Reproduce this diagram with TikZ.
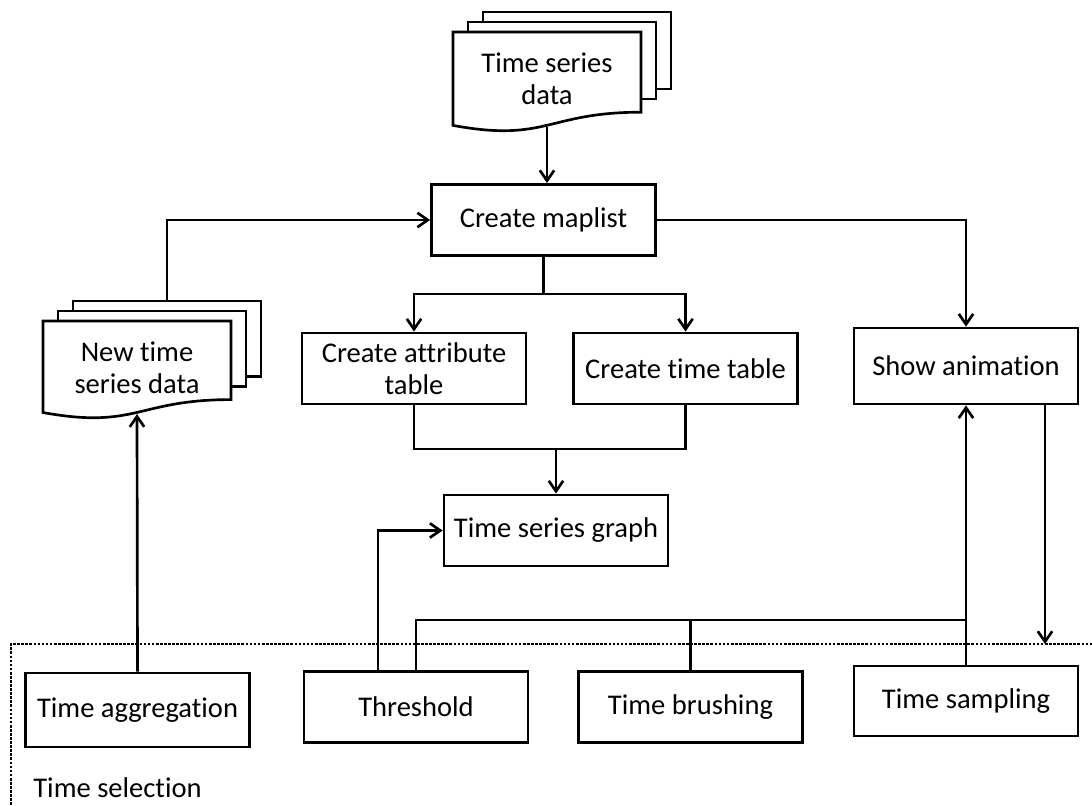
\documentclass[tikz,border=0pt]{standalone}
\usepackage{fontspec}
\setmainfont{Carlito}[Ligatures=NoCommon]
\usetikzlibrary{arrows.meta}

% stack of three pages, the front one with a wavy lower edge
% #1 name, #2 left, #3 top, #4 width, #5 height
\newcommand{\docstack}[5]{%
  \draw[page] ({#2+30},{#3-20}) rectangle ++(#4,{0.77*#5});
  \draw[page] ({#2+15},{#3-10}) rectangle ++(#4,{0.77*#5});
  \draw[page] (#2,#3) -- ++(#4,0) -- ++(0,{0.802*#5})
    .. controls ({#2+#4/2},{#3+0.802*#5}) and ({#2+#4/2},{#3+1.107*#5}) .. (#2,{#3+0.934*#5}) -- cycle;
  \coordinate (#1-top) at ({#2+30+#4/2},{#3-20});
  \coordinate (#1-bot) at ({#2+#4/2},{#3+0.95*#5});
}

\begin{document}
\begin{tikzpicture}[
    x=0.025cm, y=-0.025cm,
    line width=1.9pt,
    >={Straight Barb[length=2.6mm,width=3.6mm]},
    every node/.style = {font=\fontsize{20.3}{23}\selectfont, align=center},
    box/.style        = {draw, minimum width=5.6cm, minimum height=1.78cm},
    page/.style       = {draw, fill=white},
    selline/.style    = {line width=1.8pt, dash pattern=on 1.9pt off 1pt}
    ]
    \useasboundingbox (0,0) rectangle (1092,805);

    %--- data documents ---
    \docstack{tsdoc}{453}{32}{188}{100}
    \node (tsdata) at (547,79) {Time series\\data};
    \docstack{newdoc}{43}{321}{188}{98}
    \node (newdata) at (137,368) {New time\\series data};

    %--- process boxes ---
    \node[box] (maplist) at (543.5,220) {Create maplist};
    \node[box] (attr) at (414,368.5) {Create attribute\\table};
    \node[box] (timetab) at (685.5,368.5) {Create time table};
    \node[box, minimum height=1.9cm] (anim) at (966,366) {Show animation};
    \node[box] (graph) at (556,530.5) {Time series graph};

    %--- time selection ---
    \node[box, minimum height=1.85cm] (aggreg) at (137.5,710) {Time aggregation};
    \node[box] (thresh) at (416,707) {Threshold};
    \node[box] (brush) at (690.5,707) {Time brushing};
    \node[box, minimum height=1.75cm] (sampling) at (966,701) {Time sampling};
    \node[anchor=base west, inner sep=0pt] (sellabel) at (32,797) {Time selection};
    \draw[selline] (11,805) -- (11,644) -- (1092,644);

    %--- connectors ---
    \draw[->] (tsdoc-bot) -- (tsdoc-bot |- maplist.north);
    \draw[->] (newdoc-top) |- (maplist.west);
    \draw[->] (maplist.east) -| (anim.north);
    \coordinate (fork) at (543.5,294);
    \draw (maplist.south) -- (fork);
    \draw[->] (fork) -| (attr.north);
    \draw[->] (fork) -| (timetab.north);
    \coordinate (join) at (556,449);
    \draw (attr.south) |- (join) -| (timetab.south);
    \draw[->] (join) -- (graph.north);
    \draw[->] ([xshift=-0.95cm]thresh.north) |- (graph.west);
    \coordinate (bus) at (966,620);
    \draw (thresh.north) |- (bus);
    \draw (brush.north) -- (brush.north |- bus);
    \draw[->] (sampling.north) -- (anim.south);
    \coordinate (seltop) at (1045,644);
    \draw[->] (anim.south -| seltop) -- (seltop);
    \draw[->] (aggreg.north) -- (newdoc-bot);
\end{tikzpicture}
\end{document}
